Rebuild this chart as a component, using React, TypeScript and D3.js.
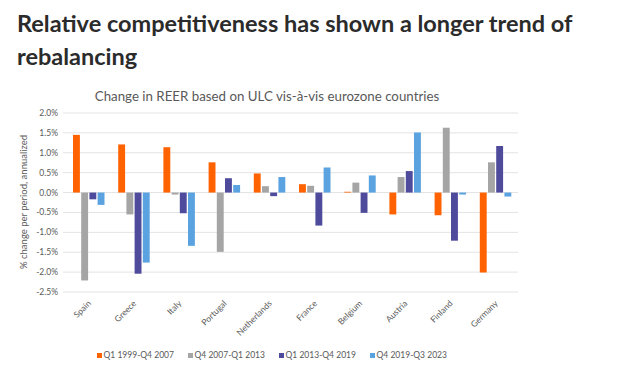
import React from "react";
import * as d3 from "d3";

const categories = ["Spain", "Greece", "Italy", "Portugal", "Netherlands", "France", "Belgium", "Austria", "Finland", "Germany"];
const seriesNames = ["Q1 1999-Q4 2007", "Q4 2007-Q1 2013", "Q1 2013-Q4 2019", "Q4 2019-Q3 2023"];
const s1 = [1.45, 1.21, 1.14, 0.76, 0.48, 0.21, 0.02, -0.55, -0.57, -2.01];
const s2 = [-2.21, -0.55, -0.05, -1.49, 0.16, 0.17, 0.25, 0.39, 1.63, 0.76];
const s3 = [-0.17, -2.04, -0.52, 0.36, -0.09, -0.83, -0.51, 0.54, -1.21, 1.17];
const s4 = [-0.31, -1.76, -1.34, 0.19, 0.39, 0.63, 0.43, 1.51, -0.05, -0.1];
const seriesValues = [s1, s2, s3, s4];
const colors = ["#FF6200", "#A5A5A5", "#4E4A9C", "#5BA3E0"];
const yTicks = [2.0, 1.5, 1.0, 0.5, 0.0, -0.5, -1.0, -1.5, -2.0, -2.5];

const W = 624;
const H = 374;

export default function App() {
  const x0 = d3.scaleBand<string>().domain(categories).range([66, 518]).paddingInner(0).paddingOuter(0);
  const x1 = d3.scaleBand<string>().domain(seriesNames).range([7, 38.5]).paddingInner(0.16);
  const y = d3.scaleLinear().domain([-2.5, 2.0]).range([292, 113]);
  const legendX = d3.scaleLinear().domain([0, 1]).range([97, 188]);

  const font = "Lato, 'Open Sans', sans-serif";
  const grey = "#595959";

  return (
    <svg width={W} height={H} style={{ position: "absolute", left: 0, top: 0, background: "#fff" }} fontFamily={font}>
      <rect x={0} y={0} width={W} height={H} fill="#fff" />
      <text x={17} y={32} fontSize={23.5} fontWeight={700} fill="#2b2b2b">Relative competitiveness has shown a longer trend of</text>
      <text x={17} y={65} fontSize={23.5} fontWeight={700} fill="#2b2b2b">rebalancing</text>

      <text x={267} y={101} fontSize={13.3} fill={grey} textAnchor="middle">Change in REER based on ULC vis-à-vis eurozone countries</text>

      {yTicks.map((t) => (
        <g key={t}>
          <line x1={63} x2={518} y1={y(t)} y2={y(t)} stroke="#e3e3e3" strokeWidth={1} />
          <text x={58} y={y(t) + 3} fontSize={8.5} fill={grey} textAnchor="end">{t.toFixed(1) + "%"}</text>
        </g>
      ))}

      <text transform={`translate(27,${202}) rotate(-90)`} fontSize={9.5} fill={grey} textAnchor="middle">% change per period, annualized</text>

      {categories.map((c, i) => (
        <g key={c} transform={`translate(${x0(c)},0)`}>
          {seriesNames.map((s, j) => {
            const v = seriesValues[j][i];
            const yv = y(v);
            const y0 = y(0);
            return (
              <rect key={s} x={x1(s)} width={x1.bandwidth()} y={Math.min(yv, y0)} height={Math.abs(yv - y0)} fill={colors[j]} />
            );
          })}
        </g>
      ))}

      {categories.map((c) => {
        const cx = (x0(c) as number) + x0.bandwidth() / 2 + 3;
        return (
          <text key={c} transform={`translate(${cx},${304}) rotate(-45)`} fontSize={8.5} fill={grey} textAnchor="end">{c}</text>
        );
      })}

      {seriesNames.map((s, j) => (
        <g key={s} transform={`translate(${legendX(j)},0)`}>
          <rect x={0} y={353} width={5} height={5} fill={colors[j]} />
          <text x={6.5} y={358} fontSize={8.5} fill={grey}>{s}</text>
        </g>
      ))}
    </svg>
  );
}
